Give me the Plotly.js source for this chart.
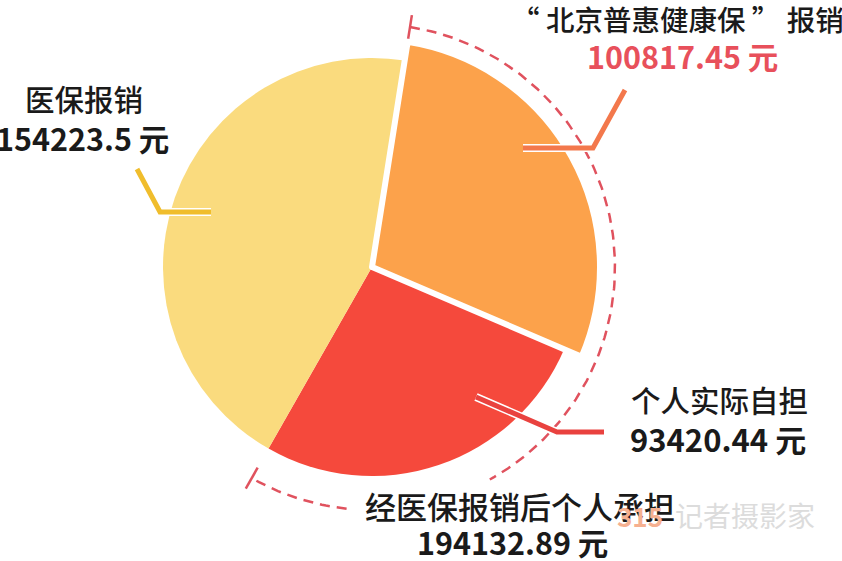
<!DOCTYPE html>
<html>
<head>
<meta charset="utf-8">
<script src="https://cdn.plot.ly/plotly-3.0.1.min.js"></script>
<style>
  html, body { margin: 0; padding: 0; background: #fff; }
  #grafica { width: 842px; height: 561px; }
</style>
</head>
<body>
<div id="grafica"></div>
<script>
// datos del gráfico
const categorias = ['“ 北京普惠健康保 ” 报销', '个人实际自担', '医保报销'];
const valores = [100817.45, 93420.44, 154223.5];
const textosValor = ['100817.45 元', '93420.44 元', '154223.5 元'];
const tituloGrupo = '经医保报销后个人承担';
const textoGrupo = '194132.89 元';

const colores = ['#fca24b', '#f5493c', '#fadb7e'];
const coloresGuia = ['#f3784c', '#e9423f', '#f0bd2c'];

// geometría en píxeles
const W = 842;
const H = 561;
const cx = 372;
const cy = 267;
const rBase = 209;
const rResaltado = 228;
const rArco = 243;
const rotacion = 9;
const FUENTE = '"Noto Sans CJK SC", "Noto Sans", sans-serif';

function dominio(r) {
  return {
    x: [(cx - r) / W, (cx + r) / W],
    y: [(H - cy - r) / H, (H - cy + r) / H]
  };
}

function puntoArco(angulo, r) {
  const a = angulo * Math.PI / 180;
  return [cx + r * Math.sin(a), cy - r * Math.cos(a)];
}

function tramoArco(a0, a1) {
  const x = [];
  const y = [];
  const pasos = Math.ceil(Math.abs(a1 - a0));
  for (let i = 0; i <= pasos; i++) {
    const p = puntoArco(a0 + (a1 - a0) * i / pasos, rArco);
    x.push(p[0]);
    y.push(p[1]);
  }
  return { x, y };
}

const total = valores.reduce((s, v) => s + v, 0);
const anguloInicio = rotacion;
const anguloFin = rotacion + (valores[0] + valores[1]) / total * 360;
const huecoTexto = [151, 186];

const estiloArco = { color: '#e0525e', width: 2.5, dash: '10px,7px' };

const trazas = [];

// pastel base: amarillo y rojo
trazas.push({
  type: 'pie',
  values: valores,
  labels: categorias,
  sort: false,
  direction: 'clockwise',
  rotation: rotacion,
  domain: dominio(rBase),
  marker: { colors: ['rgba(0,0,0,0)', colores[1], colores[2]], line: { width: 0 } },
  textinfo: 'none',
  hoverinfo: 'label+value',
  showlegend: false
});

// porción naranja resaltada
trazas.push({
  type: 'pie',
  values: valores,
  labels: categorias,
  sort: false,
  direction: 'clockwise',
  rotation: rotacion,
  domain: dominio(rResaltado),
  marker: {
    colors: [colores[0], 'rgba(0,0,0,0)', 'rgba(0,0,0,0)'],
    line: { color: '#ffffff', width: [6, 0, 0] }
  },
  textinfo: 'none',
  hoverinfo: 'label+value',
  showlegend: false
});

// arco discontinuo
[[anguloInicio, huecoTexto[0]], [huecoTexto[1], anguloFin]].forEach(([a0, a1]) => {
  const t = tramoArco(a0, a1);
  trazas.push({
    type: 'scatter', mode: 'lines', x: t.x, y: t.y,
    line: estiloArco, hoverinfo: 'skip', showlegend: false
  });
});

// marcas en los extremos del arco
[anguloInicio, anguloFin].forEach(a => {
  const p0 = puntoArco(a, rArco - 12);
  const p1 = puntoArco(a, rArco + 12);
  trazas.push({
    type: 'scatter', mode: 'lines', x: [p0[0], p1[0]], y: [p0[1], p1[1]],
    line: { color: '#e0525e', width: 2.5 }, hoverinfo: 'skip', showlegend: false
  });
});

// líneas guía (por encima del pastel)
const guias = [
  'M523,148 L593,148 L625,90',
  'M476,397 L557,432 L604,432',
  'M211,212 L160,212 L137,169'
];

const formas = [];
guias.forEach((ruta, i) => {
  formas.push({
    type: 'path', path: ruta, xref: 'x', yref: 'y', layer: 'above',
    line: { color: '#ffffff', width: 8 }
  });
  formas.push({
    type: 'path', path: ruta, xref: 'x', yref: 'y', layer: 'above',
    line: { color: coloresGuia[i], width: 5 }
  });
});

function etiqueta(texto, x, y, opciones = {}) {
  return {
    text: texto, x, y, xref: 'x', yref: 'y', showarrow: false,
    xanchor: 'center', yanchor: 'middle',
    font: Object.assign({ family: FUENTE, size: 29.5, color: '#1a1a1a', weight: 500 }, opciones)
  };
}

const anotaciones = [
  etiqueta(categorias[0], 677, 18, { size: 28.5 }),
  etiqueta(textosValor[0], 682, 56, { weight: 'bold', color: '#e8505b', size: 30.5 }),
  etiqueta(categorias[1], 719, 399),
  etiqueta(textosValor[1], 718, 438, { weight: 'bold', size: 31 }),
  etiqueta(categorias[2], 84, 98),
  etiqueta(textosValor[2], 82, 138, { weight: 'bold', size: 30.5 }),
  etiqueta(tituloGrupo, 520, 505, { size: 31 }),
  etiqueta(textoGrupo, 512, 542, { weight: 'bold', size: 30.5 }),
  etiqueta('记者摄影家', 745, 515, { color: '#dcdcdc', size: 28, weight: 'normal' }),
  etiqueta('315', 640, 515, { color: '#f6b090', size: 26, weight: 'bold' })
];

const layout = {
  width: W,
  height: H,
  margin: { l: 0, r: 0, t: 0, b: 0 },
  paper_bgcolor: '#ffffff',
  plot_bgcolor: 'rgba(0,0,0,0)',
  xaxis: { range: [0, W], visible: false, fixedrange: true },
  yaxis: { range: [H, 0], visible: false, fixedrange: true },
  shapes: formas,
  annotations: anotaciones,
  showlegend: false
};

Plotly.newPlot('grafica', trazas, layout, { displayModeBar: false, staticPlot: true });
</script>
</body>
</html>
